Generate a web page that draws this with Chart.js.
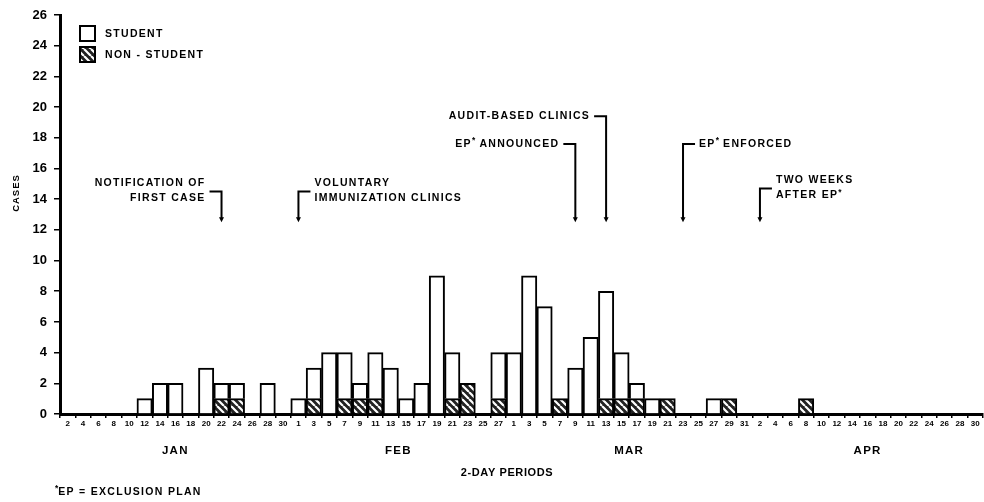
<!DOCTYPE html>
<html>
<head>
<meta charset="utf-8">
<script src="https://cdn.jsdelivr.net/npm/chart.js"></script>
<style>
  html, body { margin: 0; padding: 0; background: #fff; }
</style>
</head>
<body>
<canvas id="chart" width="984" height="502"></canvas>
<script>
// 2-day periods, labelled by first day
const janDays = ['2','4','6','8','10','12','14','16','18','20','22','24','26','28','30'];
const febDays = ['1','3','5','7','9','11','13','15','17','19','21','23','25','27'];
const marDays = ['1','3','5','7','9','11','13','15','17','19','21','23','25','27','29','31'];
const aprDays = ['2','4','6','8','10','12','14','16','18','20','22','24','26','28','30'];
const monthNames = ['JAN', 'FEB', 'MAR', 'APR'];

// cases per period
const studentCases = [
  0,0,0,0,0,1,2,2,0,3,1,1,0,2,0,          // jan
  1,2,4,3,1,3,3,1,2,9,3,0,0,3,            // feb
  4,9,7,0,3,5,7,3,1,1,0,0,0,1,0,0,        // mar
  0,0,0,0,0,0,0,0,0,0,0,0,0,0,0           // apr
];
const nonStudentCases = [
  0,0,0,0,0,0,0,0,0,0,1,1,0,0,0,
  0,1,0,1,1,1,0,0,0,0,1,2,0,1,
  0,0,0,1,0,0,1,1,1,0,1,0,0,0,1,0,
  0,0,0,1,0,0,0,0,0,0,0,0,0,0,0
];
const yTicks = [0,2,4,6,8,10,12,14,16,18,20,22,24,26];

// events marked with arrows (period index, level of the bracket)
const events = [
  { text: ['NOTIFICATION OF', 'FIRST CASE'], at: 10, level: 14.5, side: 'left' },
  { text: ['VOLUNTARY', 'IMMUNIZATION CLINICS'], at: 15, level: 14.5, side: 'right' },
  { text: ['AUDIT-BASED CLINICS'], at: 35, level: 19.4, side: 'left' },
  { text: ['EP* ANNOUNCED'], at: 33, level: 17.6, side: 'left' },
  { text: ['EP* ENFORCED'], at: 40, level: 17.6, side: 'right' },
  { text: ['TWO WEEKS', 'AFTER EP*'], at: 45, level: 14.7, side: 'right' }
];
const arrowEnd = 12.5;

const labels = [...janDays, ...febDays, ...marDays, ...aprDays];
const monthSpans = [janDays, febDays, marDays, aprDays].map(d => d.length);

const FONT = "'Liberation Sans', Arial, sans-serif";

function hatch() {
  const s = 7;
  const c = document.createElement('canvas');
  c.width = s; c.height = s;
  const g = c.getContext('2d');
  g.fillStyle = '#222';
  g.fillRect(0, 0, s, s);
  g.strokeStyle = '#fff';
  g.lineWidth = 2.2;
  g.beginPath();
  for (let k = -1; k <= 1; k++) {
    g.moveTo(k * s, 0);
    g.lineTo(k * s + s, s);
  }
  g.stroke();
  return g.createPattern(c, 'repeat');
}
const hatchFill = hatch();

// text with superscript asterisk, lettering spaced out like the original
function setFont(ctx, size, sup, spacing) {
  ctx.font = `bold ${sup ? size * 0.8 : size}px ${FONT}`;
  ctx.letterSpacing = sup ? '0px' : spacing + 'px';
}
function richWidth(ctx, str, size, spacing) {
  let w = 0;
  str.split(/(\*)/).forEach(p => {
    if (!p) return;
    setFont(ctx, size, p === '*', spacing);
    w += ctx.measureText(p).width;
  });
  return w;
}
function drawRich(ctx, str, x, y, size, align, spacing = 1.3) {
  const w = richWidth(ctx, str, size, spacing);
  let cx = align === 'right' ? x - w : align === 'center' ? x - w / 2 : x;
  ctx.textAlign = 'left';
  ctx.textBaseline = 'middle';
  str.split(/(\*)/).forEach(p => {
    if (!p) return;
    setFont(ctx, size, p === '*', spacing);
    ctx.fillText(p, cx, p === '*' ? y - 3 : y);
    cx += ctx.measureText(p).width;
  });
  ctx.letterSpacing = '0px';
}

const extras = {
  id: 'extras',
  afterDraw(chart) {
    const { ctx, chartArea: a, scales: { x, y } } = chart;
    ctx.save();
    ctx.fillStyle = '#000';
    ctx.strokeStyle = '#000';

    // legend
    const lx = a.left + 20, ly = a.top + 11;
    ctx.lineWidth = 2;
    ctx.fillStyle = '#fff';
    ctx.fillRect(lx, ly, 15, 15);
    ctx.strokeRect(lx, ly, 15, 15);
    ctx.fillStyle = hatchFill;
    ctx.fillRect(lx, ly + 21, 15, 15);
    ctx.strokeRect(lx, ly + 21, 15, 15);
    ctx.fillStyle = '#000';
    drawRich(ctx, 'STUDENT', lx + 25, ly + 8, 10.5, 'left');
    drawRich(ctx, 'NON - STUDENT', lx + 25, ly + 29, 10.5, 'left');

    // event arrows
    events.forEach(ev => {
      const px = x.getPixelForValue(ev.at);
      const top = y.getPixelForValue(ev.level);
      const bot = y.getPixelForValue(arrowEnd);
      ctx.lineWidth = 2;
      ctx.beginPath();
      ctx.moveTo(px, bot - 4);
      ctx.lineTo(px, top);
      const dir = ev.side === 'left' ? -1 : 1;
      ctx.lineTo(px + dir * 12, top);
      ctx.stroke();
      ctx.beginPath();
      ctx.moveTo(px - 2.5, bot - 5);
      ctx.lineTo(px + 2.5, bot - 5);
      ctx.lineTo(px, bot);
      ctx.closePath();
      ctx.fill();
      const tx = px + dir * 16;
      const align = ev.side === 'left' ? 'right' : 'left';
      if (ev.text.length === 1) {
        drawRich(ctx, ev.text[0], tx, top, 10.5, align);
      } else {
        drawRich(ctx, ev.text[0], tx, top - 8, 10.5, align);
        drawRich(ctx, ev.text[1], tx, top + 7, 10.5, align);
      }
    });

    // month names under the period labels
    let start = 0;
    monthNames.forEach((m, i) => {
      const end = start + monthSpans[i] - 1;
      const cx = (x.getPixelForValue(start) + x.getPixelForValue(end)) / 2;
      drawRich(ctx, m, cx, 451, 11.5, 'center');
      start = end + 1;
    });

    drawRich(ctx, '2-DAY PERIODS', 507, 473, 11, 'center', 0.6);
    drawRich(ctx, '*EP = EXCLUSION PLAN', 55, 492, 10.5, 'left');

    // y axis title
    ctx.save();
    ctx.translate(16, 193);
    ctx.rotate(-Math.PI / 2);
    ctx.font = `bold 9.5px ${FONT}`;
    ctx.letterSpacing = '1px';
    ctx.textAlign = 'center';
    ctx.textBaseline = 'middle';
    ctx.fillText('CASES', 0, 0);
    ctx.restore();

    ctx.restore();
  }
};

new Chart(document.getElementById('chart').getContext('2d'), {
  type: 'bar',
  data: {
    labels: labels,
    datasets: [
      {
        label: 'NON-STUDENT',
        data: nonStudentCases.map(v => v || null),
        backgroundColor: hatchFill,
        borderColor: '#000',
        borderWidth: 2,
        barPercentage: 1,
        categoryPercentage: 1
      },
      {
        label: 'STUDENT',
        data: studentCases.map(v => v || null),
        backgroundColor: '#fff',
        borderColor: '#000',
        borderWidth: 2,
        barPercentage: 1,
        categoryPercentage: 1
      }
    ]
  },
  options: {
    responsive: false,
    animation: false,
    devicePixelRatio: 1,
    layout: { padding: { top: 15, right: 1, left: 0, bottom: 0 } },
    plugins: { legend: { display: false }, tooltip: { enabled: false } },
    scales: {
      x: {
        stacked: true,
        grid: { drawOnChartArea: false, drawTicks: true, tickLength: 4, color: '#000', lineWidth: 1.5, offset: true },
        border: { color: '#000', width: 3 },
        ticks: { color: '#000', font: { family: FONT, size: 8, weight: 'bold' }, maxRotation: 0, autoSkip: false, padding: 1 },
        afterFit(s) { s.height = 88; }
      },
      y: {
        stacked: true,
        min: 0,
        max: 26,
        afterBuildTicks(s) { s.ticks = yTicks.map(v => ({ value: v })); },
        grid: { drawOnChartArea: false, drawTicks: true, tickLength: 6, color: '#000', lineWidth: 1.5 },
        border: { color: '#000', width: 3 },
        ticks: { color: '#000', font: { family: FONT, size: 13, weight: 'bold' }, padding: 7 },
        afterFit(s) { s.width = 60; }
      }
    }
  },
  plugins: [extras]
});
</script>
</body>
</html>
